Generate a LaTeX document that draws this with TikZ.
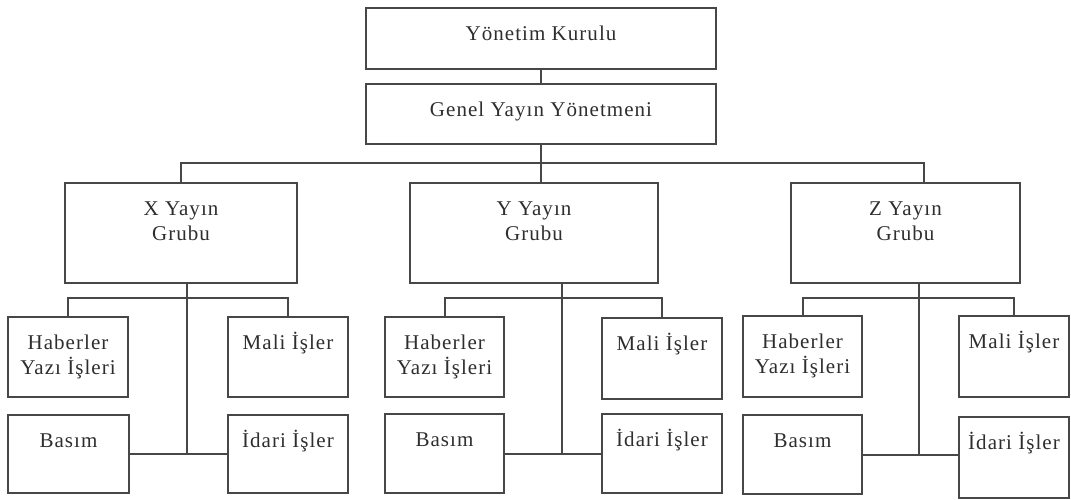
\documentclass[tikz,border=0pt]{standalone}
\usepackage{fontspec}
\setmainfont{Liberation Serif}[LetterSpace=5]
\begin{document}
\begin{tikzpicture}[x=1pt,y=-1pt,
  conn/.style={draw=black!72, line width=2pt},
  box/.style={draw=black!72, line width=2pt, rectangle, inner sep=0pt},
  lbl/.style={anchor=north, inner sep=0pt, text=black!82, align=center,
    font=\fontsize{21}{25}\selectfont},
  cap/.style={label={[lbl, yshift=-15.5pt]north:\strut #1}}
]
\useasboundingbox (0,0) rectangle (1071,500);

% top management
\node[box, minimum width=350pt, minimum height=61pt, cap={Yönetim Kurulu}] (yk) at (541,38.5) {};
\node[box, minimum width=350pt, minimum height=60pt, cap={Genel Yayın Yönetmeni}] (gy) at (541,114) {};

% publishing groups
\node[box, minimum width=232pt, minimum height=100pt, cap={X Yayın\\Grubu}] (xg) at (181,233) {};
\node[box, minimum width=248pt, minimum height=100pt, cap={Y Yayın\\Grubu}] (yg) at (534,233) {};
\node[box, minimum width=229pt, minimum height=100pt, cap={Z Yayın\\Grubu}] (zg) at (905.5,233) {};

% departments of X
\node[box, minimum width=120pt, minimum height=80pt, cap={Haberler\\Yazı İşleri}] (xh) at (68,357) {};
\node[box, minimum width=120pt, minimum height=80pt, cap={Mali İşler}] (xm) at (288,357) {};
\node[box, minimum width=121pt, minimum height=78pt, cap={Basım}] (xb) at (68.5,454) {};
\node[box, minimum width=120pt, minimum height=78pt, cap={İdari İşler}] (xi) at (288,454) {};

% departments of Y
\node[box, minimum width=119pt, minimum height=80pt, cap={Haberler\\Yazı İşleri}] (yh) at (444.5,357) {};
\node[box, minimum width=120pt, minimum height=81pt, cap={Mali İşler}] (ym) at (662,358.5) {};
\node[box, minimum width=119pt, minimum height=79pt, cap={Basım}] (yb) at (444.5,453.5) {};
\node[box, minimum width=120pt, minimum height=79pt, cap={İdari İşler}] (yi) at (662,453.5) {};

% departments of Z
\node[box, minimum width=119pt, minimum height=81pt, cap={Haberler\\Yazı İşleri}] (zh) at (802.5,356.5) {};
\node[box, minimum width=110pt, minimum height=81pt, cap={Mali İşler}] (zm) at (1014,356.5) {};
\node[box, minimum width=119pt, minimum height=79pt, cap={Basım}] (zb) at (802.5,454.5) {};
\node[box, minimum width=110pt, minimum height=81pt, cap={İdari İşler}] (zi) at (1014,457.5) {};

% upper connectors
\draw[conn] (yk.south) -- (gy.north);
\draw[conn] (gy.south) -- (gy.south |- yg.north);
\draw[conn] (gy.south) ++(0,18) -| (xg.north);
\draw[conn] (gy.south) ++(0,18) -| ([xshift=18.5pt]zg.north);

% X group connectors
\draw[conn] (xh.north) -- ++(0,-18) -| (xm.north);
\draw[conn] ([xshift=6pt]xg.south) -- ([xshift=6pt]xg.south |- xb.east);
\draw[conn] (xb.east) -- (xi.west);

% Y group connectors
\draw[conn] (yh.north) -- ++(0,-18) -| (ym.north);
\draw[conn] ([xshift=28pt]yg.south) -- ([xshift=28pt]yg.south |- yb.east);
\draw[conn] (yb.east) -- (yi.west);

% Z group connectors
\draw[conn] (zh.north) -- ++(0,-17) -| (zm.north);
\draw[conn] ([xshift=13.5pt]zg.south) -- ([xshift=13.5pt]zg.south |- zb.east);
\draw[conn] (zb.east) -- (zb.east -| zi.west);
\end{tikzpicture}
\end{document}
